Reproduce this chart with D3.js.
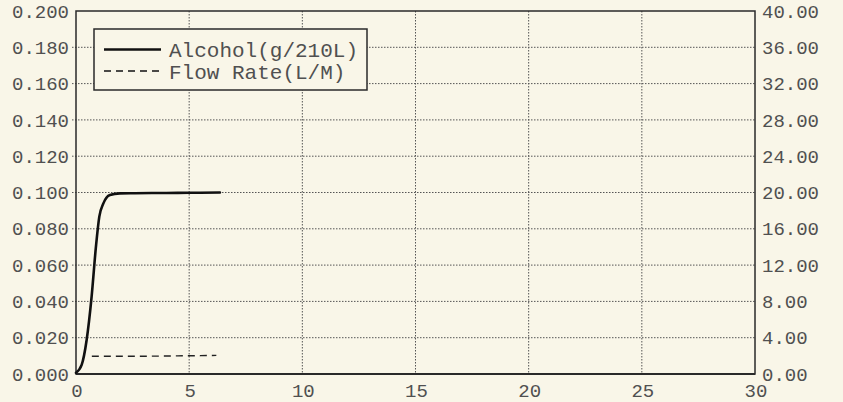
<!DOCTYPE html>
<html>
<head>
<meta charset="utf-8">
<script src="https://cdn.jsdelivr.net/npm/d3@7"></script>
<style>
    body { margin: 0; background: #f9f6e8; }
    svg { display: block; }
    text { font-family: "Liberation Mono", "DejaVu Sans Mono", monospace; fill: #505050; }
</style>
</head>
<body>
<svg id="breath-chart"></svg>
<script>
/*--------------------------------------------------------------------------------
----- BREATH CHART (alcohol concentration and flow rate over time)
--------------------------------------------------------------------------------*/

// Time samples (seconds) for the alcohol curve and its values (g/210L)
const alcohol_time = [0, 0.25, 0.47, 0.69, 0.88, 1.03, 1.21, 1.5, 1.94, 2.6, 3.5, 4.5, 5.5, 6.36];
const alcohol_values = [0.0007, 0.005, 0.0187, 0.0426, 0.070, 0.0867, 0.094, 0.0986, 0.0995, 0.0996, 0.0997, 0.0998, 0.0999, 0.1000];

// Time samples (seconds) for the flow rate and its values (L/M)
const flow_time = [0.7, 1.5, 2.5, 3.5, 4.5, 5.5, 6.2];
const flow_values = [1.95, 1.95, 1.95, 1.97, 2.0, 2.02, 2.05];

// Tick labels of the three axes
const x_ticks = [0, 5, 10, 15, 20, 25, 30];
const left_ticks = [0, 0.02, 0.04, 0.06, 0.08, 0.10, 0.12, 0.14, 0.16, 0.18, 0.20];
const right_ticks = [0, 4, 8, 12, 16, 20, 24, 28, 32, 36, 40];

// Legend entries
const legend_labels = ["Alcohol(g/210L)", "Flow Rate(L/M)"];

// Configure the dimensions of the chart
const chart_width = 843, chart_height = 402;
const chart_margins = { top: 11, right: 88, bottom: 28, left: 76 };

// Create the scales for the X-axis and both Y-axes
const x_scale = d3.scaleLinear()
    .domain([0, 30])
    .range([chart_margins.left, chart_width - chart_margins.right]);
const y_left_scale = d3.scaleLinear()
    .domain([0, 0.2])
    .range([chart_height - chart_margins.bottom, chart_margins.top]);
const y_right_scale = d3.scaleLinear()
    .domain([0, 40])
    .range([chart_height - chart_margins.bottom, chart_margins.top]);

// Create the chart container
const chart_svg = d3.select("#breath-chart")
    .attr("width", chart_width)
    .attr("height", chart_height);

chart_svg.append("rect")
    .attr("width", chart_width)
    .attr("height", chart_height)
    .attr("fill", "#f9f6e8");

// Dotted vertical grid lines
chart_svg.append("g")
    .selectAll("line")
    .data(x_ticks.slice(1, -1))
    .enter().append("line")
    .attr("x1", function (d) { return x_scale(d); })
    .attr("x2", function (d) { return x_scale(d); })
    .attr("y1", y_left_scale(0.2))
    .attr("y2", y_left_scale(0))
    .attr("stroke", "#555")
    .attr("stroke-width", 1)
    .attr("stroke-dasharray", "1.5,1.5");

// Dotted horizontal grid lines (they poke out a little on the left side)
chart_svg.append("g")
    .selectAll("line")
    .data(left_ticks.slice(1, -1))
    .enter().append("line")
    .attr("x1", x_scale(0) - 4)
    .attr("x2", x_scale(30))
    .attr("y1", function (d) { return y_left_scale(d); })
    .attr("y2", function (d) { return y_left_scale(d); })
    .attr("stroke", "#555")
    .attr("stroke-width", 1)
    .attr("stroke-dasharray", "1.5,1.5");

// Frame around the plot
chart_svg.append("rect")
    .attr("x", x_scale(0))
    .attr("y", y_left_scale(0.2))
    .attr("width", x_scale(30) - x_scale(0))
    .attr("height", y_left_scale(0) - y_left_scale(0.2))
    .attr("fill", "none")
    .attr("stroke", "#2a2a2a")
    .attr("stroke-width", 1.5);

chart_svg.append("line")
    .attr("x1", x_scale(0))
    .attr("x2", x_scale(30))
    .attr("y1", y_left_scale(0))
    .attr("y2", y_left_scale(0))
    .attr("stroke", "#2a2a2a")
    .attr("stroke-width", 2.2);

// Left axis tick labels
chart_svg.append("g")
    .selectAll("text")
    .data(left_ticks)
    .enter().append("text")
    .attr("x", 69)
    .attr("y", function (d) { return y_left_scale(d); })
    .attr("dy", "0.35em")
    .attr("text-anchor", "end")
    .attr("font-size", 19)
    .text(function (d) { return d3.format(".3f")(d); });

// Right axis tick labels
chart_svg.append("g")
    .selectAll("text")
    .data(right_ticks)
    .enter().append("text")
    .attr("x", 762)
    .attr("y", function (d) { return y_right_scale(d); })
    .attr("dy", "0.35em")
    .attr("text-anchor", "start")
    .attr("font-size", 19)
    .text(function (d) { return d3.format(".2f")(d); });

// Bottom axis tick labels
chart_svg.append("g")
    .selectAll("text")
    .data(x_ticks)
    .enter().append("text")
    .attr("x", function (d) { return x_scale(d) + 1; })
    .attr("y", 397)
    .attr("text-anchor", "middle")
    .attr("font-size", 19)
    .text(function (d) { return d; });

// Draw the alcohol concentration curve
chart_svg.append("path")
    .datum(d3.zip(alcohol_time, alcohol_values))
    .attr("fill", "none")
    .attr("stroke", "#111")
    .attr("stroke-width", 2.6)
    .attr("stroke-linejoin", "round")
    .attr("stroke-linecap", "round")
    .attr("d", d3.line()
        .curve(d3.curveMonotoneX)
        .x(function (d) { return x_scale(d[0]); })
        .y(function (d) { return y_left_scale(d[1]); }));

// Draw the flow rate dashed line (right axis)
chart_svg.append("path")
    .datum(d3.zip(flow_time, flow_values))
    .attr("fill", "none")
    .attr("stroke", "#222")
    .attr("stroke-width", 1.4)
    .attr("stroke-dasharray", "7,5")
    .attr("d", d3.line()
        .curve(d3.curveMonotoneX)
        .x(function (d) { return x_scale(d[0]); })
        .y(function (d) { return y_right_scale(d[1]); }));

// Legend box
const legend_g = chart_svg.append("g");

legend_g.append("rect")
    .attr("x", 94)
    .attr("y", 29)
    .attr("width", 273)
    .attr("height", 61)
    .attr("fill", "#f9f6e8")
    .attr("stroke", "#2a2a2a")
    .attr("stroke-width", 1.5);

legend_g.selectAll("line")
    .data(legend_labels)
    .enter().append("line")
    .attr("x1", 104)
    .attr("x2", 161)
    .attr("y1", function (d, i) { return 49.5 + i * 21.5; })
    .attr("y2", function (d, i) { return 49.5 + i * 21.5; })
    .attr("stroke", "#111")
    .attr("stroke-width", function (d, i) { return i === 0 ? 2.4 : 1.4; })
    .attr("stroke-dasharray", function (d, i) { return i === 0 ? null : "7,5"; });

legend_g.selectAll("text")
    .data(legend_labels)
    .enter().append("text")
    .attr("x", 169)
    .attr("y", function (d, i) { return 57 + i * 21.5; })
    .attr("font-size", 21)
    .text(function (d) { return d; });
</script>
</body>
</html>
